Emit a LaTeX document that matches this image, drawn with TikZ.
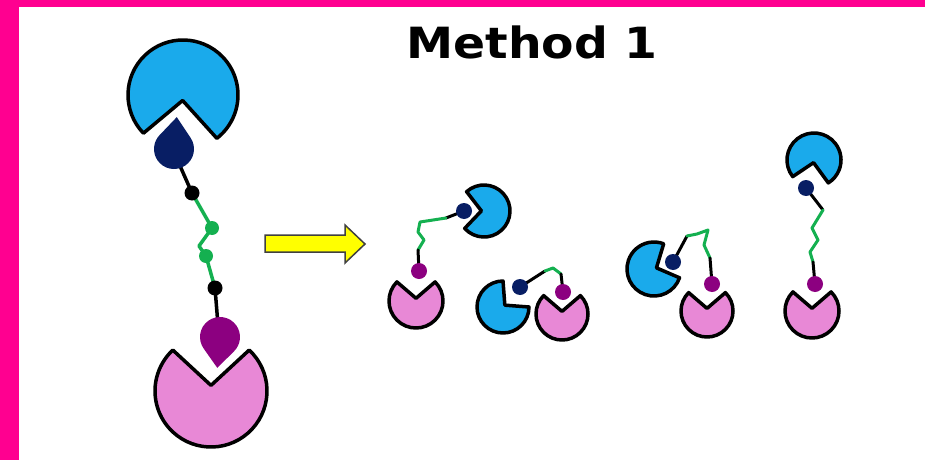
\documentclass[tikz,border=0pt]{standalone}
\usepackage{fontspec}
\setsansfont{DejaVu Sans}
\usetikzlibrary{calc}

\definecolor{framepink}{RGB}{255,0,144}
\definecolor{pacblue}{RGB}{26,170,235}
\definecolor{pacpink}{RGB}{232,136,214}
\definecolor{ligandnavy}{RGB}{8,30,100}
\definecolor{ligandplum}{RGB}{140,0,128}
\definecolor{linkgreen}{RGB}{20,176,80}
\definecolor{arrowyellow}{RGB}{255,255,0}

% receptor: disc with a wedge cut out; centre x, y, radius, mouth direction, half opening, fill, outline width
\newcommand{\receptor}[7]{%
  \pgfmathsetmacro\recshift{0.1*#3}%
  \filldraw[line width=#7, fill=#6, line join=round]
    ($(#1,#2)+(#4:\recshift)$) -- ($(#1,#2)+(#4+#5:#3)$)
    arc[start angle=#4+#5, end angle=#4+360-#5, radius=#3] -- cycle;}
% ligand drop: centre x, y, radius, tip direction, tip distance / radius, fill
\newcommand{\ligand}[6]{%
  \pgfmathsetmacro\ligoff{acos(1/#5)}%
  \pgfmathsetmacro\liglen{#3*#5}%
  \fill[#6] ($(#1,#2)+(#4:\liglen)$) -- ($(#1,#2)+(#4+\ligoff:#3)$)
    arc[start angle=#4+\ligoff, end angle=#4+360-\ligoff, radius=#3] -- cycle;}

\tikzset{
  blackbond/.style={line width=#1, black, line cap=round, line join=round},
  greenbond/.style={line width=#1, linkgreen, line cap=round, line join=round},
}

\begin{document}
\begin{tikzpicture}[x=1pt, y=-1pt]
  \useasboundingbox (0,0) rectangle (925,460);
  \fill[white] (0,0) rectangle (925,460);
  % frame strips
  \fill[framepink] (0,0) rectangle (19,460);
  \fill[framepink] (0,0) rectangle (925,7);

  % title
  \node[font=\sffamily\bfseries\fontsize{43}{43}\selectfont, xscale=1.1, anchor=base]
    (title) at (532,59) {Method 1};

  % ---------------- large construct ----------------
  \coordinate (Lnavy) at (173,150);
  \coordinate (LbA) at (192,193);
  \coordinate (Lg1) at (212,228);
  \coordinate (Lk1) at (199,246);
  \coordinate (Lg2) at (206,256);
  \coordinate (LbB) at (215,288);
  \coordinate (Lplum) at (218,325);
  \draw[blackbond=3.5pt] (Lnavy) -- (LbA);
  \draw[greenbond=3.5pt] (LbA) -- (Lg1) -- (Lk1) -- (Lg2) -- (LbB);
  \draw[blackbond=3.5pt] (LbB) -- (Lplum);
  \receptor{183}{95}{55}{94}{42}{pacblue}{3.5pt}
  \ligand{174}{149}{20}{275}{1.6}{ligandnavy}
  \receptor{211}{391}{56}{270}{43}{pacpink}{3.5pt}
  \ligand{220}{337}{20}{95}{1.55}{ligandplum}
  \fill[black] (LbA) circle (7.5);
  \fill[black] (LbB) circle (7.5);
  \fill[linkgreen] (Lg1) circle (7);
  \fill[linkgreen] (Lg2) circle (7);

  % arrow
  \filldraw[fill=arrowyellow, draw=black!75, line width=1.5pt, line join=miter]
    (265,235) -- (345,235) -- (345,225) -- (365,244) -- (345,263) -- (345,252)
    -- (265,252) -- cycle;

  % ---------------- construct 1 ----------------
  \coordinate (An) at (464,211);
  \coordinate (Ab1) at (446,218);
  \coordinate (Ag1) at (420,222);
  \coordinate (Ag2) at (418,232);
  \coordinate (Ag3) at (424,240);
  \coordinate (Ag4) at (418,250);
  \coordinate (Ap) at (419,271);
  \draw[blackbond=3pt] (An) -- (Ab1);
  \draw[greenbond=3pt] (Ab1) -- (Ag1) -- (Ag2) -- (Ag3) -- (Ag4);
  \draw[blackbond=3pt] (Ag4) -- (Ap);
  \receptor{484}{211}{26}{183}{45}{pacblue}{3.5pt}
  \receptor{416}{301}{27}{270}{45}{pacpink}{3.5pt}
  \fill[ligandnavy] (An) circle (8);
  \fill[ligandplum] (Ap) circle (8);

  % ---------------- construct 2 ----------------
  \coordinate (Bn) at (520,287);
  \coordinate (Bb1) at (545,271);
  \coordinate (Bg1) at (553,268);
  \coordinate (Bg2) at (561,274);
  \coordinate (Bp) at (563,292);
  \draw[blackbond=3pt] (Bn) -- (Bb1);
  \draw[greenbond=3pt] (Bb1) -- (Bg1) -- (Bg2);
  \draw[blackbond=3pt] (Bg2) -- (Bp);
  \receptor{503}{307}{26}{315}{45}{pacblue}{3.5pt}
  \receptor{562}{314}{26}{270}{45}{pacpink}{3.5pt}
  \fill[ligandnavy] (Bn) circle (8);
  \fill[ligandplum] (Bp) circle (8);

  % ---------------- construct 3 ----------------
  \coordinate (Cn) at (673,262);
  \coordinate (Cb1) at (687,236);
  \coordinate (Cg1) at (697,234);
  \coordinate (Cg2) at (708,230);
  \coordinate (Cg3) at (704,245);
  \coordinate (Cg4) at (710,258);
  \coordinate (Cp) at (712,284);
  \draw[blackbond=3pt] (Cn) -- (Cb1);
  \draw[greenbond=3pt] (Cb1) -- (Cg1) -- (Cg2) -- (Cg3) -- (Cg4);
  \draw[blackbond=3pt] (Cg4) -- (Cp);
  \receptor{654}{269}{27}{335}{44}{pacblue}{3.5pt}
  \receptor{707}{311}{26}{270}{45}{pacpink}{3.5pt}
  \fill[ligandnavy] (Cn) circle (8);
  \fill[ligandplum] (Cp) circle (8);

  % ---------------- construct 4 ----------------
  \coordinate (Dn) at (806,188);
  \coordinate (Db1) at (823,210);
  \coordinate (Dg1) at (812,228);
  \coordinate (Dg2) at (818,240);
  \coordinate (Dg3) at (810,252);
  \coordinate (Dg4) at (813,262);
  \coordinate (Dp) at (815,284);
  \draw[blackbond=3pt] (Dn) -- (Db1);
  \draw[greenbond=3pt] (Db1) -- (Dg1) -- (Dg2) -- (Dg3) -- (Dg4);
  \draw[blackbond=3pt] (Dg4) -- (Dp);
  \receptor{814}{160}{27}{100}{42}{pacblue}{3.5pt}
  \receptor{812}{311}{27}{270}{45}{pacpink}{3.5pt}
  \fill[ligandnavy] (Dn) circle (8);
  \fill[ligandplum] (Dp) circle (8);
\end{tikzpicture}
\end{document}
